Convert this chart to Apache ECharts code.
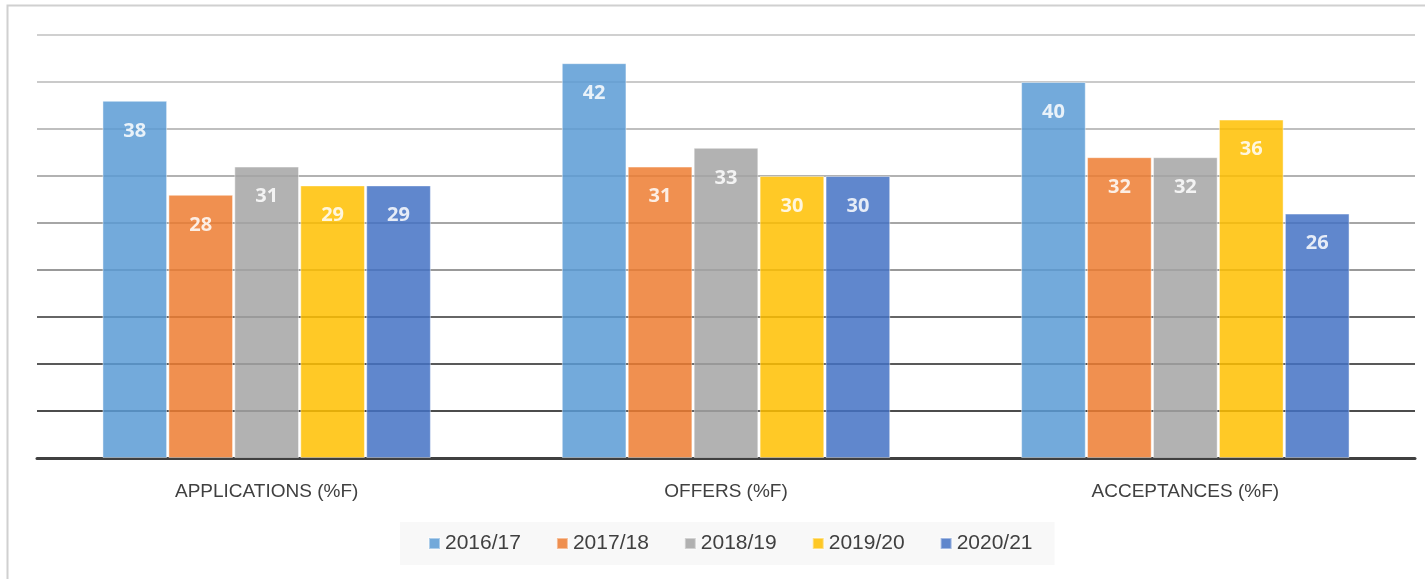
<!DOCTYPE html>
<html><head><meta charset="utf-8">
<script src="https://cdn.jsdelivr.net/npm/echarts@6/dist/echarts.min.js"></script>
<style>html,body{margin:0;padding:0;background:#fff}#c{width:1425px;height:579px}</style>
</head><body><div id="c"></div>
<script>
const categories = ['APPLICATIONS (%F)', 'OFFERS (%F)', 'ACCEPTANCES (%F)'];
const seriesNames = ['2016/17', '2017/18', '2018/19', '2019/20', '2020/21'];
const s2016 = [38, 42, 40];
const s2017 = [28, 31, 32];
const s2018 = [31, 33, 32];
const s2019 = [29, 30, 36];
const s2020 = [29, 30, 26];
const values = [s2016, s2017, s2018, s2019, s2020];
const colors = ['#5B9BD5', '#ED7D31', '#A5A5A5', '#FFC000', '#4472C4'];

const chart = echarts.init(document.getElementById('c'));
chart.setOption({
  animation: false,
  graphic: [{type: 'rect', shape: {x: 7.5, y: 5.5, width: 1430, height: 600}, style: {fill: 'none', stroke: '#d0d0d0', lineWidth: 2}, z: -10}],
  grid: {left: 37, right: 10, top: 35, bottom: 121},
  legend: {
    bottom: 14, left: 400,
    backgroundColor: '#f8f8f8', padding: [11, 22, 11, 28],
    itemWidth: 11, itemHeight: 11, itemGap: 35, icon: 'rect',
    textStyle: {fontSize: 21, color: '#404040', fontFamily: 'Liberation Sans'},
    data: seriesNames
  },
  xAxis: {
    type: 'category', data: categories,
    axisLine: {lineStyle: {color: '#404040', width: 3}},
    axisTick: {show: false},
    axisLabel: {fontSize: 19, color: '#404040', margin: 24, fontFamily: 'Liberation Sans'}
  },
  yAxis: {
    type: 'value', min: 0, max: 45, interval: 5,
    axisLabel: {show: false}, axisLine: {show: false}, axisTick: {show: false},
    splitLine: {lineStyle: {width: 1.5, color: ['#404040', '#111111', '#222222', '#333333', '#777777', '#888888', '#999999', '#aaaaaa', '#b8b8b8', '#c0c0c0']}}
  },
  series: values.map((v, i) => ({
    name: seriesNames[i], type: 'bar', data: v,
    barGap: '2%', barCategoryGap: '28.5%',
    itemStyle: {color: colors[i], opacity: 0.85, borderColor: 'rgba(255,255,255,0.5)', borderWidth: 1},
    label: {show: true, position: 'insideTop', distance: 20, color: '#fff', fontWeight: 'bold', fontSize: 20, fontFamily: 'Open Sans'}
  }))
});
</script></body></html>
